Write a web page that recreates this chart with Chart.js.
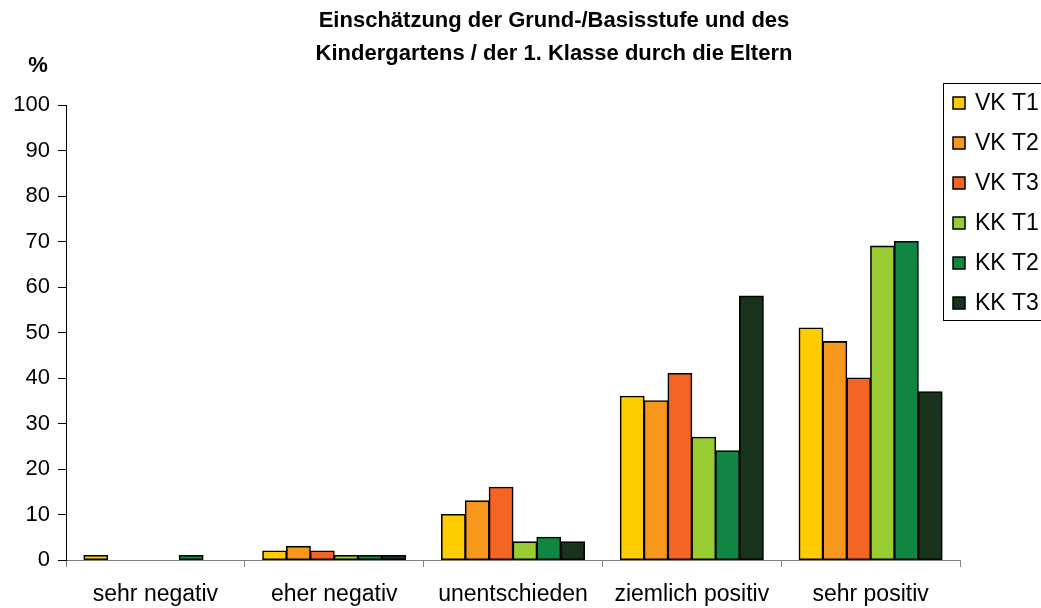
<!DOCTYPE html>
<html><head><meta charset="utf-8">
<script src="https://cdn.jsdelivr.net/npm/chart.js@4.4.0/dist/chart.umd.min.js"></script>
<style>html,body{margin:0;padding:0;background:#fff}#wrap{width:1041px;height:608px;position:relative}</style>
</head><body><div id="wrap"><canvas id="c" width="1041" height="608"></canvas></div>
<script>
const categories = ['sehr negativ', 'eher negativ', 'unentschieden', 'ziemlich positiv', 'sehr positiv'];
const seriesNames = ['VK T1', 'VK T2', 'VK T3', 'KK T1', 'KK T2', 'KK T3'];
const vkT1 = [1, 2, 10, 36, 51];
const vkT2 = [0, 3, 13, 35, 48];
const vkT3 = [0, 2, 16, 41, 40];
const kkT1 = [0, 1, 4, 27, 69];
const kkT2 = [1, 1, 5, 24, 70];
const kkT3 = [0, 1, 4, 58, 37];
const yTickValues = [0, 10, 20, 30, 40, 50, 60, 70, 80, 90, 100];
const seriesColors = ['#FFCC00', '#F7981D', '#F26522', '#99CC33', '#118542', '#1A331C'];
const titleLines = ['Einschätzung der Grund-/Basisstufe und des', 'Kindergartens / der 1. Klasse durch die Eltern'];
const yAxisLabel = '%';

const FONT = '"Liberation Sans", Arial, Helvetica, sans-serif';
const allSeries = [vkT1, vkT2, vkT3, kkT1, kkT2, kkT3];

const datasets = allSeries.map((vals, i) => ({
  label: seriesNames[i],
  data: vals,
  backgroundColor: seriesColors[i],
  borderColor: '#000',
  borderWidth: ctx => (ctx.raw ? 1.6 : 0),
  borderSkipped: false,
  inflateAmount: ctx => (ctx.raw ? 0.5 : 0),
  categoryPercentage: 0.8,
  barPercentage: 1.0
}));

const decorPlugin = {
  id: 'decor',
  afterDraw(chart) {
    const ctx = chart.ctx;
    ctx.save();
    // title
    ctx.fillStyle = '#000';
    ctx.textAlign = 'center';
    ctx.textBaseline = 'middle';
    ctx.font = 'bold 22px ' + FONT;
    ctx.fillText(titleLines[0], 554, 21);
    ctx.fillText(titleLines[1], 554, 54);
    // axis unit label
    ctx.font = 'bold 22px ' + FONT;
    ctx.fillText(yAxisLabel, 38, 66);
    // legend
    ctx.strokeStyle = '#000';
    ctx.lineWidth = 1;
    ctx.fillStyle = '#fff';
    ctx.fillRect(943.5, 83.5, 120, 237);
    ctx.strokeRect(943.5, 83.5, 120, 237);
    ctx.font = '23px ' + FONT;
    ctx.textAlign = 'left';
    seriesNames.forEach((name, i) => {
      const cy = 103 + 40 * i;
      ctx.fillStyle = seriesColors[i];
      ctx.fillRect(953, cy - 6, 12, 12);
      ctx.lineWidth = 1.5;
      ctx.strokeRect(953, cy - 6, 12, 12);
      ctx.fillStyle = '#000';
      ctx.fillText(name, 975, cy + 1);
    });
    ctx.restore();
  }
};

new Chart(document.getElementById('c'), {
  type: 'bar',
  data: { labels: categories, datasets },
  options: {
    responsive: false,
    animation: false,
    devicePixelRatio: 1,
    layout: { padding: { top: 105, right: 81, left: 0, bottom: 0 } },
    plugins: { legend: { display: false }, title: { display: false }, tooltip: { enabled: false } },
    scales: {
      x: {
        afterFit: s => { s.height = 48; },
        grid: { offset: true, drawOnChartArea: false, drawTicks: true, tickLength: 7, color: '#808080', lineWidth: 1 },
        border: { color: '#808080', width: 1 },
        ticks: { color: '#000', font: { family: FONT, size: 23 }, padding: 14, maxRotation: 0, autoSkip: false }
      },
      y: {
        min: 0, max: 100,
        afterFit: s => { s.width = 66; },
        afterBuildTicks: s => { s.ticks = yTickValues.map(v => ({ value: v })); },
        grid: { drawOnChartArea: false, drawTicks: true, tickLength: 8, color: '#000', lineWidth: 1 },
        border: { color: '#000', width: 1 },
        ticks: { color: '#000', font: { family: FONT, size: 22 }, padding: 8 }
      }
    }
  },
  plugins: [decorPlugin]
});
</script>
</body></html>
